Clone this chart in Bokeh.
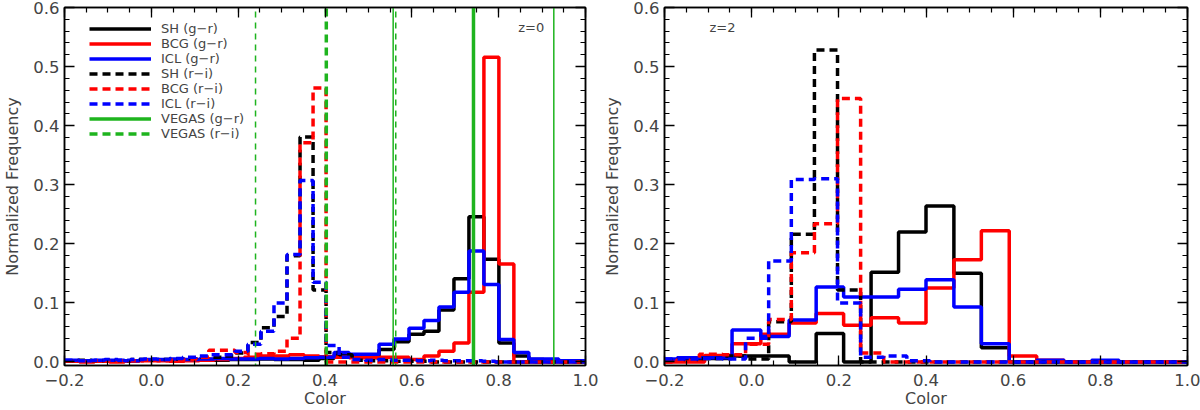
from bokeh.plotting import figure
from bokeh.layouts import row
from bokeh.models import (Range1d, LinearAxis, SingleIntervalTicker, CustomJSTickFormatter,
                          Legend, LegendItem, Label)
from bokeh.embed import file_html
from bokeh.resources import INLINE

# ---------------- data ----------------
# z=0, g-r histograms (bin edges and normalized frequency per bin)
edges_gr_z0 = [-0.2, -0.1655, -0.131, -0.0965, -0.062, -0.0275, 0.007, 0.0415, 0.076, 0.1105,
               0.145, 0.1795, 0.214, 0.2485, 0.283, 0.3175, 0.352, 0.3865, 0.421, 0.4555,
               0.49, 0.5245, 0.559, 0.5935, 0.628, 0.6625, 0.697, 0.7315, 0.766, 0.8005,
               0.835, 0.8695, 0.904, 0.9385, 0.973, 1.0]
sh_gr_z0 = [0.002, 0.001, 0.002, 0.001, 0.002, 0.003, 0.003, 0.002, 0.003, 0.004, 0.003, 0.004,
            0.004, 0.005, 0.004, 0.004, 0.003, 0.006, 0.012, 0.008, 0.008, 0.021, 0.034, 0.047,
            0.052, 0.088, 0.141, 0.246, 0.174, 0.032, 0.010, 0.004, 0.002, 0.001, 0.0]
bcg_gr_z0 = [0.001, 0.0, 0.001, 0.0, 0.001, 0.002, 0.002, 0.001, 0.002, 0.003, 0.004, 0.006,
             0.008, 0.010, 0.010, 0.012, 0.010, 0.009, 0.008, 0.007, 0.007, 0.008, 0.008, 0.004,
             0.010, 0.018, 0.032, 0.118, 0.516, 0.166, 0.0, 0.0, 0.0, 0.0, 0.0]
icl_gr_z0 = [0.003, 0.002, 0.003, 0.003, 0.002, 0.004, 0.004, 0.005, 0.004, 0.005, 0.006, 0.005,
             0.005, 0.006, 0.005, 0.006, 0.007, 0.008, 0.016, 0.013, 0.013, 0.030, 0.039, 0.057,
             0.070, 0.093, 0.118, 0.188, 0.131, 0.038, 0.016, 0.005, 0.005, 0.002, 0.002]

# z=0, r-i histograms
edges_ri_z0 = [-0.2, -0.1675, -0.1375, -0.1075, -0.0775, -0.0475, -0.0175, 0.0125, 0.0425,
               0.0725, 0.1025, 0.1325, 0.1625, 0.1925, 0.2225, 0.2525, 0.2825, 0.3125, 0.3425,
               0.3725, 0.4025, 0.4325, 0.4625, 0.4925, 0.5225, 0.5525, 0.5825, 0.6125, 0.6425,
               0.6725, 0.7025, 0.7325, 0.7625, 0.7925, 0.8225, 0.8525, 0.8825, 0.9125, 0.9425,
               0.9725, 1.0]
sh_ri_z0 = [0.002, 0.003, 0.002, 0.003, 0.002, 0.004, 0.003, 0.004, 0.005, 0.006, 0.008, 0.008,
            0.010, 0.015, 0.033, 0.058, 0.077, 0.180, 0.381, 0.122, 0.016, 0.012, 0.003, 0.002,
            0.002, 0.001, 0.001, 0.001, 0.0, 0.0, 0.0, 0.0, 0.0, 0.0, 0.0, 0.0, 0.0, 0.0, 0.0, 0.0]
bcg_ri_z0 = [0.001, 0.001, 0.002, 0.001, 0.002, 0.002, 0.003, 0.002, 0.003, 0.004, 0.008, 0.020,
             0.020, 0.016, 0.013, 0.014, 0.018, 0.040, 0.371, 0.464, 0.0, 0.0, 0.0, 0.0,
             0.0, 0.0, 0.0, 0.0, 0.0, 0.0, 0.0, 0.0, 0.0, 0.0, 0.0, 0.0, 0.0, 0.0, 0.0, 0.0]
icl_ri_z0 = [0.003, 0.002, 0.003, 0.004, 0.003, 0.004, 0.005, 0.004, 0.006, 0.008, 0.010, 0.012,
             0.012, 0.018, 0.030, 0.052, 0.100, 0.182, 0.307, 0.135, 0.028, 0.008, 0.004, 0.003,
             0.004, 0.003, 0.003, 0.002, 0.003, 0.002, 0.002, 0.002, 0.001, 0.0, 0.0, 0.0, 0.0,
             0.0, 0.0, 0.0]

# VEGAS colour ranges: lower bound, mean, upper bound
vegas_gr = [0.557, 0.742, 0.927]
vegas_ri = [0.240, 0.403, 0.563]

# z=2, g-r histograms
edges_gr_z2 = [-0.2, -0.171, -0.108, -0.045, 0.021, 0.086, 0.148, 0.211, 0.274, 0.337, 0.400,
               0.464, 0.527, 0.591, 0.654, 0.717, 0.780, 0.843, 0.906, 0.969, 1.0]
sh_gr_z2 = [0.003, 0.004, 0.006, 0.010, 0.010, 0.0, 0.048, 0.0, 0.152, 0.220, 0.264, 0.150,
            0.024, 0.0, 0.0, 0.0, 0.0, 0.0, 0.0, 0.0]
bcg_gr_z2 = [0.0, 0.0, 0.011, 0.031, 0.047, 0.066, 0.082, 0.062, 0.075, 0.066, 0.125, 0.173,
             0.222, 0.010, 0.003, 0.0, 0.0, 0.0, 0.0, 0.0]
icl_gr_z2 = [0.005, 0.007, 0.007, 0.054, 0.043, 0.071, 0.127, 0.110, 0.110, 0.123, 0.139, 0.093,
             0.031, 0.0, 0.003, 0.0, 0.003, 0.0, 0.0, 0.0]

# z=2, r-i histograms
edges_ri_z2 = [-0.2, -0.173, -0.12, -0.067, -0.014, 0.039, 0.091, 0.144, 0.197, 0.25, 0.303,
               0.356, 0.409, 0.462, 0.515, 0.568, 0.621, 0.674, 0.727, 0.78, 0.833, 0.886,
               0.939, 1.0]
sh_ri_z2 = [0.003, 0.004, 0.006, 0.010, 0.005, 0.068, 0.216, 0.528, 0.122, 0.0, 0.0, 0.0,
            0.0, 0.0, 0.0, 0.0, 0.0, 0.0, 0.0, 0.0, 0.0, 0.0, 0.0]
bcg_ri_z2 = [0.0, 0.003, 0.013, 0.012, 0.030, 0.072, 0.185, 0.234, 0.446, 0.015, 0.0, 0.0,
             0.0, 0.0, 0.0, 0.0, 0.0, 0.0, 0.0, 0.0, 0.0, 0.0, 0.0]
icl_ri_z2 = [0.005, 0.005, 0.006, 0.005, 0.040, 0.171, 0.309, 0.310, 0.100, 0.008, 0.010, 0.002,
             0.0, 0.0, 0.0, 0.0, 0.0, 0.0, 0.0, 0.0, 0.0, 0.0, 0.0]

x_axis_title = "Color"
y_axis_title = "Normalized Frequency"

# ---------------- styling ----------------
FONT = "DejaVu Sans"
TICK_FS = "16.5px"
GREEN = "#1EB41E"
HIST_W = 3.5
DASH = "8 5"


def style_axis(ax, interval, minor, show_labels):
    ax.ticker = SingleIntervalTicker(interval=interval, num_minor_ticks=minor)
    ax.major_tick_in = 10
    ax.major_tick_out = 0
    ax.minor_tick_in = 5
    ax.minor_tick_out = 0
    ax.axis_line_width = 1.5
    ax.major_tick_line_width = 1.3
    ax.minor_tick_line_width = 1.2
    ax.major_label_text_font = FONT
    ax.axis_label_text_font = FONT
    ax.axis_label_text_font_style = "normal"
    ax.axis_label_text_font_size = "16px"
    if show_labels:
        ax.formatter = CustomJSTickFormatter(
            code="return tick.toFixed(1).replace('-', '\u2212');")
        ax.major_label_text_font_size = TICK_FS
    else:
        # tick marks only on the opposite sides of the frame
        ax.formatter = CustomJSTickFormatter(code="return '';")
        ax.major_label_text_font_size = "1px"
        ax.major_label_standoff = 0


def make_panel(border_left, border_right):
    p = figure(width=600, height=410, output_backend="svg", toolbar_location=None,
               x_range=Range1d(-0.2, 1.0), y_range=Range1d(-0.006, 0.6001),
               min_border_left=border_left, min_border_right=border_right,
               min_border_top=7, min_border_bottom=45)
    p.xgrid.visible = False
    p.ygrid.visible = False
    p.outline_line_color = "black"
    p.outline_line_width = 1.5
    p.background_fill_color = "white"
    p.border_fill_color = "white"

    xb = p.xaxis[0]
    style_axis(xb, 0.2, 4, True)
    xb.axis_label = x_axis_title
    xb.major_label_standoff = 8
    xb.axis_label_standoff = 0

    yl = p.yaxis[0]
    style_axis(yl, 0.1, 5, True)
    yl.axis_label = y_axis_title
    yl.major_label_standoff = 5
    yl.axis_label_standoff = 8

    top = LinearAxis()
    style_axis(top, 0.2, 4, False)
    p.add_layout(top, "above")
    right = LinearAxis()
    style_axis(right, 0.1, 5, False)
    p.add_layout(right, "right")
    return p


def hist(p, edges, vals, color, dashed=False):
    return p.step(x=edges, y=list(vals) + [vals[-1]], mode="after",
                  line_color=color, line_width=HIST_W,
                  line_dash=DASH if dashed else "solid")


# ---------------- z = 0 ----------------
left = make_panel(60, 15)
r_sh_gr = hist(left, edges_gr_z0, sh_gr_z0, "black")
r_bcg_gr = hist(left, edges_gr_z0, bcg_gr_z0, "red")
r_icl_gr = hist(left, edges_gr_z0, icl_gr_z0, "blue")
r_sh_ri = hist(left, edges_ri_z0, sh_ri_z0, "black", True)
r_bcg_ri = hist(left, edges_ri_z0, bcg_ri_z0, "red", True)
r_icl_ri = hist(left, edges_ri_z0, icl_ri_z0, "blue", True)

# VEGAS ranges: thin lines at the bounds, thick line at the mean
bounds_gr = [vegas_gr[0], vegas_gr[2]]
bounds_ri = [vegas_ri[0], vegas_ri[2]]
left.segment(x0=bounds_gr, x1=bounds_gr, y0=-1, y1=1, line_color=GREEN, line_width=1.5)
left.segment(x0=bounds_ri, x1=bounds_ri, y0=-1, y1=1, line_color=GREEN, line_width=1.5,
             line_dash="6 5")
r_vg = left.segment(x0=[vegas_gr[1]], x1=[vegas_gr[1]], y0=-1, y1=1, line_color=GREEN,
                    line_width=3.5)
r_vr = left.segment(x0=[vegas_ri[1]], x1=[vegas_ri[1]], y0=-1, y1=1, line_color=GREEN,
                    line_width=3.5, line_dash=DASH)

legend = Legend(items=[
    LegendItem(label="SH (g\u2212r)", renderers=[r_sh_gr]),
    LegendItem(label="BCG (g\u2212r)", renderers=[r_bcg_gr]),
    LegendItem(label="ICL (g\u2212r)", renderers=[r_icl_gr]),
    LegendItem(label="SH (r\u2212i)", renderers=[r_sh_ri]),
    LegendItem(label="BCG (r\u2212i)", renderers=[r_bcg_ri]),
    LegendItem(label="ICL (r\u2212i)", renderers=[r_icl_ri]),
    LegendItem(label="VEGAS (g\u2212r)", renderers=[r_vg]),
    LegendItem(label="VEGAS (r\u2212i)", renderers=[r_vr]),
], location=(25, 224), glyph_width=62, glyph_height=15, label_height=15, spacing=0,
    padding=0, margin=0, label_standoff=10, label_text_font=FONT,
    label_text_font_size="13px", border_line_color=None, background_fill_alpha=0)
left.add_layout(legend, "center")
left.add_layout(Label(x=0.875, y=0.567, text="z=0", text_font=FONT, text_font_size="13px",
                      text_align="center", text_baseline="middle"))

# ---------------- z = 2 ----------------
right = make_panel(62, 13)
hist(right, edges_gr_z2, sh_gr_z2, "black")
hist(right, edges_gr_z2, bcg_gr_z2, "red")
hist(right, edges_gr_z2, icl_gr_z2, "blue")
hist(right, edges_ri_z2, sh_ri_z2, "black", True)
hist(right, edges_ri_z2, bcg_ri_z2, "red", True)
hist(right, edges_ri_z2, icl_ri_z2, "blue", True)
right.add_layout(Label(x=-0.067, y=0.567, text="z=2", text_font=FONT, text_font_size="13px",
                       text_align="center", text_baseline="middle"))

p = row(left, right)
open("out.html", "w").write(file_html(p, INLINE))
